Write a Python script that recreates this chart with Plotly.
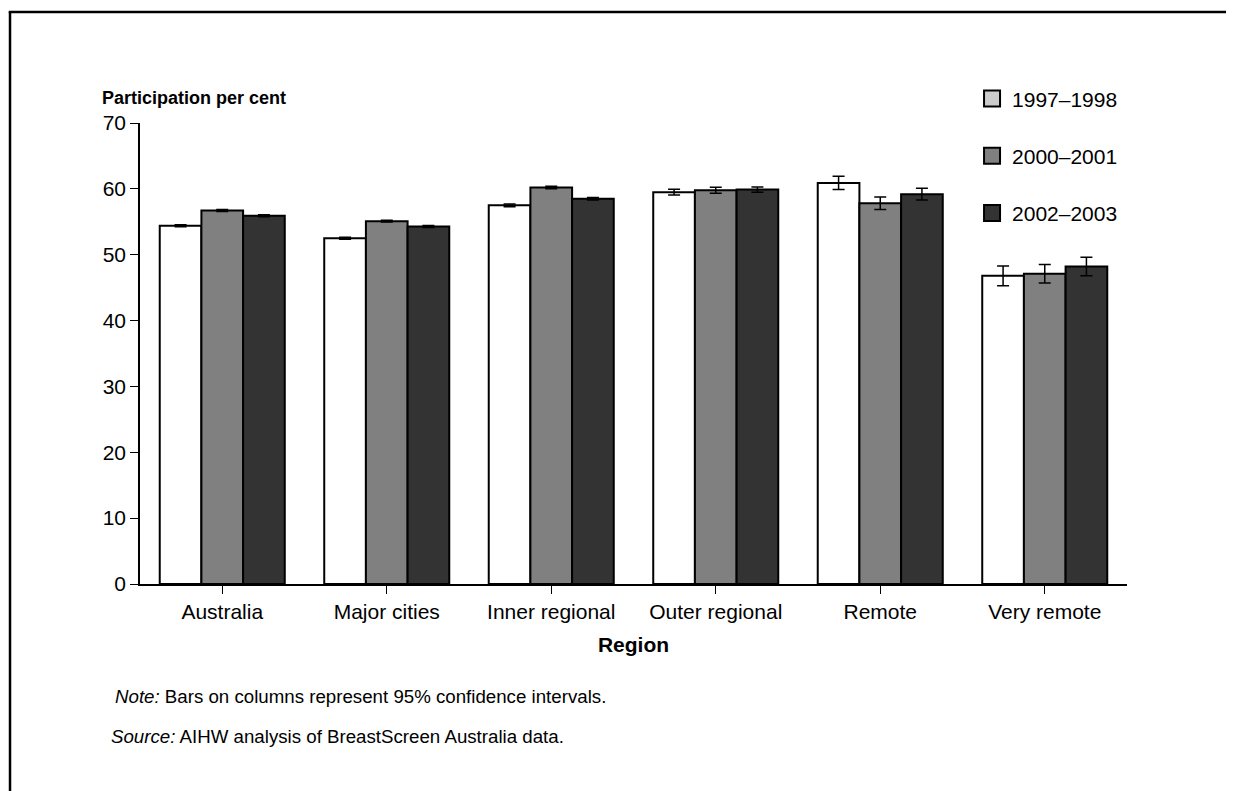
import plotly.graph_objects as go

regions = ["Australia", "Major cities", "Inner regional", "Outer regional", "Remote", "Very remote"]
series_names = ["1997–1998", "2000–2001", "2002–2003"]
v1997 = [54.4, 52.5, 57.5, 59.5, 60.9, 46.8]
v2000 = [56.7, 55.1, 60.2, 59.8, 57.8, 47.1]
v2002 = [55.9, 54.3, 58.5, 59.9, 59.2, 48.2]
ci1997 = [0.15, 0.15, 0.2, 0.45, 1.0, 1.5]
ci2000 = [0.15, 0.15, 0.2, 0.45, 0.95, 1.4]
ci2002 = [0.15, 0.15, 0.2, 0.4, 0.9, 1.4]
y_ticks = [0, 10, 20, 30, 40, 50, 60, 70]

bar_fills = ["#ffffff", "#808080", "#333333"]
legend_fills = ["#cccccc", "#808080", "#333333"]
FONT = "Liberation Sans, Arial, sans-serif"

fig = go.Figure()
for name, vals, ci, fill in zip(series_names, [v1997, v2000, v2002], [ci1997, ci2000, ci2002], bar_fills):
    fig.add_trace(go.Bar(
        x=regions, y=vals, name=name, showlegend=False,
        marker=dict(color=fill, line=dict(color="#000000", width=2)),
        error_y=dict(type="data", array=ci, color="#000000", thickness=1.5, width=6),
    ))
for name, fill in zip(series_names, legend_fills):
    fig.add_trace(go.Scatter(
        x=[None], y=[None], mode="markers", name=name, legendgroup=name,
        marker=dict(symbol="square", size=20, color=fill, line=dict(color="#000000", width=2)),
    ))

# page body has an 8px margin, so the figure is smaller and the plot area offsets shift by 8
fig.update_layout(
    width=1226, height=783,
    margin=dict(l=132, r=107, t=115, b=207),
    paper_bgcolor="#ffffff", plot_bgcolor="#ffffff",
    font=dict(family=FONT, size=21, color="#000000"),
    barmode="group", bargap=0.24, bargroupgap=0,
    legend=dict(x=0.843, y=1.097, xanchor="left", yanchor="top",
                font=dict(size=21, family=FONT), tracegroupgap=27,
                bgcolor="rgba(0,0,0,0)"),
    xaxis=dict(showline=True, linecolor="#000000", linewidth=1.5,
               ticks="outside", ticklen=8, tickcolor="#000000", tickwidth=1,
               showgrid=False, zeroline=False, tickfont=dict(size=21),
               title=dict(text="<b>Region</b>", font=dict(size=21), standoff=15)),
    yaxis=dict(range=[0, 70], tickvals=y_ticks, showline=True, linecolor="#000000",
               linewidth=1.5, ticks="outside", ticklen=8, tickcolor="#000000",
               tickwidth=1, showgrid=False, zeroline=False, tickfont=dict(size=21)),
    annotations=[
        dict(text="<b>Participation per cent</b>", xref="paper", yref="paper",
             x=-0.041, y=1.054, xanchor="left", yanchor="middle", showarrow=False,
             font=dict(size=18)),
        dict(text="<i>Note:</i> Bars on columns represent 95% confidence intervals.",
             xref="paper", yref="paper", x=-0.0274, y=-0.243, xanchor="left",
             yanchor="middle", showarrow=False, font=dict(size=18.7)),
        dict(text="<i>Source:</i> AIHW analysis of BreastScreen Australia data.",
             xref="paper", yref="paper", x=-0.0314, y=-0.330, xanchor="left",
             yanchor="middle", showarrow=False, font=dict(size=18.7)),
    ],
    shapes=[
        dict(type="line", xref="paper", yref="paper", x0=-0.133, x1=1.2,
             y0=1.2408, y1=1.2408, line=dict(color="#000000", width=2.5)),
        dict(type="line", xref="paper", yref="paper", x0=-0.1317, x1=-0.1317,
             y0=1.2408, y1=-0.5, line=dict(color="#000000", width=2.5)),
    ],
)

fig.write_html("out.html")
